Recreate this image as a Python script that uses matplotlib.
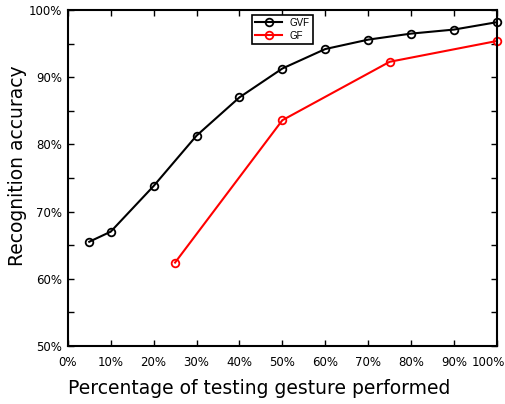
import matplotlib
matplotlib.use("Agg")
import matplotlib.pyplot as plt
import matplotlib.transforms as mtransforms
from matplotlib.ticker import MultipleLocator, FuncFormatter

# recognition accuracy (%) vs share of gesture performed (%)
gvf_x = [5, 10, 20, 30, 40, 50, 60, 70, 80, 90, 100]
gvf_y = [65.5, 67.0, 73.8, 81.3, 87.0, 91.3, 94.2, 95.6, 96.5, 97.1, 98.2]
gf_x = [25, 50, 75, 100]
gf_y = [62.4, 83.6, 92.3, 95.4]

fig = plt.figure(figsize=(5.06, 4.04), dpi=100)
ax = fig.add_axes([0.134, 0.144, 0.848, 0.831])

ax.plot(gvf_x, gvf_y, color='black', marker='o', markersize=5.5, markerfacecolor='none',
        markeredgewidth=1.3, linewidth=1.5, label='GVF', clip_on=False)
ax.plot(gf_x, gf_y, color='red', marker='o', markersize=5.5, markerfacecolor='none',
        markeredgewidth=1.3, linewidth=1.5, label='GF', clip_on=False)

ax.set_xlim(0, 100)
ax.set_ylim(50, 100)
ax.xaxis.set_major_locator(MultipleLocator(10))
ax.yaxis.set_major_locator(MultipleLocator(10))
ax.yaxis.set_minor_locator(MultipleLocator(5))
pct = FuncFormatter(lambda v, p: '%d%%' % v)
ax.xaxis.set_major_formatter(pct)
ax.yaxis.set_major_formatter(pct)
ax.tick_params(which='both', direction='in', top=True, right=True, labelsize=8.5, width=1)
ax.tick_params(which='major', length=4)
ax.tick_params(which='minor', length=4)
ax.tick_params(axis='x', pad=7)
ax.tick_params(axis='y', pad=4)
for s in ax.spines.values():
    s.set_linewidth(1.5)

ax.set_xlabel('Percentage of testing gesture performed', fontsize=13.5)
ax.set_ylabel('Recognition accuracy', fontsize=13.5)
ax.xaxis.set_label_coords(0.445, -0.1)
ax.yaxis.set_label_coords(-0.096, 0.536)

leg = ax.legend(loc='upper left', bbox_to_anchor=(0.418, 1.0),
                prop={'family': 'Liberation Sans', 'size': 7}, fancybox=False,
                edgecolor='black', framealpha=1, handlelength=2.8, borderpad=0.3,
                labelspacing=0.3)
leg.get_frame().set_linewidth(1.2)

# keep the 100% x label inside the figure, as in the original
fig.canvas.draw()
for tick in ax.xaxis.get_major_ticks():
    if abs(tick.get_loc() - 100) < 1e-6:
        lbl = tick.label1
        lbl.set_horizontalalignment('right')
        lbl.set_transform(lbl.get_transform() + mtransforms.ScaledTranslation(0.08, 0, fig.dpi_scale_trans))

fig.savefig('out.png', dpi=100)
